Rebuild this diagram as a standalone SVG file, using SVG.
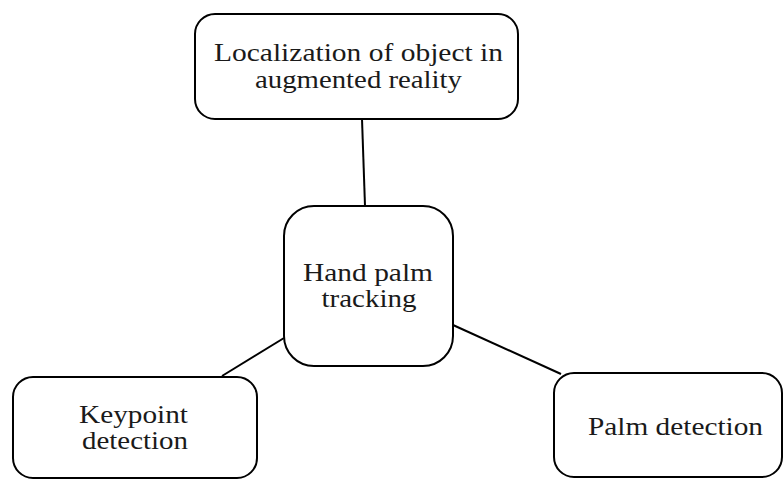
<svg xmlns="http://www.w3.org/2000/svg" width="784" height="479" viewBox="0 0 784 479">
  <style>
    .box { fill: #ffffff; stroke: #000000; stroke-width: 2; }
    .link { stroke: #000000; stroke-width: 2; fill: none; }
    text { font-family: "Liberation Serif", "DejaVu Serif", serif; font-size: 26px; fill: #1a1a1a; text-anchor: middle; }
  </style>
  <rect width="784" height="479" fill="#ffffff"/>

  <g id="connectors">
    <line class="link" x1="362" y1="119" x2="365" y2="206"/>
    <line class="link" x1="284" y1="338" x2="222" y2="376"/>
    <line class="link" x1="453" y1="325" x2="561" y2="374"/>
  </g>

  <g id="localization">
    <rect class="box" x="195" y="14" width="323" height="105" rx="20" ry="20"/>
    <text font-family="Liberation Serif, serif" x="358.5" y="61" textLength="289" lengthAdjust="spacingAndGlyphs">Localization  of object in</text>
    <text font-family="Liberation Serif, serif" x="358.5" y="88" textLength="207" lengthAdjust="spacingAndGlyphs">augmented reality</text>
  </g>

  <g id="hand-palm-tracking">
    <rect class="box" x="284" y="206" width="169" height="160" rx="30" ry="30"/>
    <text font-family="Liberation Serif, serif" x="368" y="281" textLength="130" lengthAdjust="spacingAndGlyphs">Hand palm</text>
    <text font-family="Liberation Serif, serif" x="369" y="307" textLength="95" lengthAdjust="spacingAndGlyphs">tracking</text>
  </g>

  <g id="keypoint-detection">
    <rect class="box" x="13" y="377" width="244" height="101" rx="20" ry="20"/>
    <text font-family="Liberation Serif, serif" x="133.5" y="423" textLength="109" lengthAdjust="spacingAndGlyphs">Keypoint</text>
    <text font-family="Liberation Serif, serif" x="135" y="449" textLength="106" lengthAdjust="spacingAndGlyphs">detection</text>
  </g>

  <g id="palm-detection">
    <rect class="box" x="554" y="373" width="228" height="104" rx="20" ry="20"/>
    <text font-family="Liberation Serif, serif" x="675.5" y="435" textLength="175" lengthAdjust="spacingAndGlyphs">Palm detection</text>
  </g>
</svg>
